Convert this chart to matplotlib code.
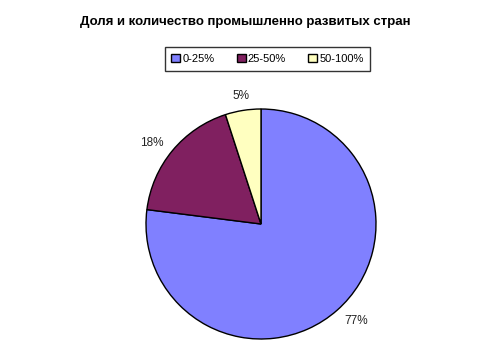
import numpy as np
import matplotlib.pyplot as plt

labels = ['0-25%', '25-50%', '50-100%']
shares = [77, 18, 5]
colors = ['#8080ff', '#802060', '#ffffc0']

plt.rcParams['font.family'] = ['Liberation Sans', 'DejaVu Sans']

fig = plt.figure(figsize=(4.91, 3.49), dpi=100)
ax = fig.add_axes([146 / 491, 10 / 349, 230 / 491, 230 / 349])

wedges, texts = ax.pie(shares, colors=colors, startangle=90, counterclock=False,
                       wedgeprops=dict(edgecolor='black', linewidth=1))
ax.set_xlim(-1, 1)
ax.set_ylim(-1, 1)
ax.set_aspect('equal')

# percent labels outside the pie
for w, s in zip(wedges, shares):
    mid = np.deg2rad((w.theta1 + w.theta2) / 2)
    d = 1.18 if s != 5 else 1.13
    shift = 0.05 if s != 5 else 0
    ax.text(d * np.cos(mid + shift), d * np.sin(mid + shift), f'{s}%',
            ha='center', va='center', fontsize=8.5, color='#222222')

fig.text(0.5, 1 - 22 / 349, 'Доля и количество промышленно развитых стран',
         ha='center', va='center', fontsize=9.5, fontweight='bold')

leg = fig.legend(wedges, labels, loc='center', bbox_to_anchor=(267.5 / 491, 1 - 59 / 349),
                 ncol=3, fancybox=False, frameon=True, fontsize=8,
                 handlelength=0.8, handleheight=0.8, handletextpad=0.2,
                 columnspacing=2.0, borderpad=0.6)
leg.get_frame().set_edgecolor('black')
leg.get_frame().set_linewidth(1)

fig.savefig('out.png', dpi=100)
